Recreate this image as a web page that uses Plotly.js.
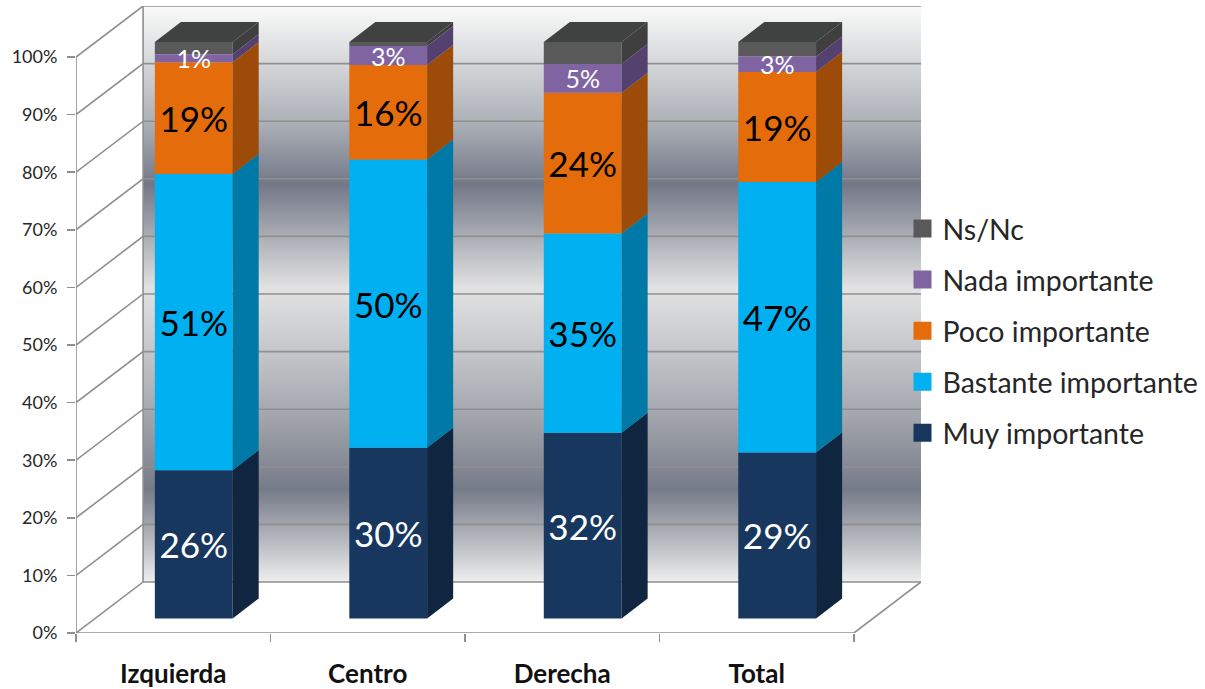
<!DOCTYPE html>
<html>
<head>
<meta charset="utf-8">
<script src="https://cdn.plot.ly/plotly-3.0.1.min.js"></script>
<style>html,body{margin:0;padding:0;background:#fff;overflow:hidden}#chart{width:1205px;height:689px}</style>
</head>
<body>
<div id="chart"></div>
<script>
const categories = ['Izquierda', 'Centro', 'Derecha', 'Total'];
const muyImportante = [25.7, 29.6, 32.2, 28.8];
const bastanteImportante = [51.4, 50.0, 34.6, 46.9];
const pocoImportante = [19.4, 16.4, 24.4, 19.1];
const nadaImportante = [1.4, 3.3, 5.0, 2.7];
const nsNc = [2.1, 0.7, 3.8, 2.5];
const yTicks = [0, 10, 20, 30, 40, 50, 60, 70, 80, 90, 100];

const seriesNames = ['Muy importante', 'Bastante importante', 'Poco importante', 'Nada importante', 'Ns/Nc'];
const seriesValues = [muyImportante, bastanteImportante, pocoImportante, nadaImportante, nsNc];
const frontColors = ['#17375e', '#00b0f0', '#e46c0a', '#8064a2', '#595959'];
const sideColors = ['#10253f', '#0079a6', '#9c4c08', '#54416f', '#3f3f3f'];
const labelColors = ['#ffffff', '#000000', '#000000', '#ffffff', '#ffffff'];
const labelSizes = [35, 35, 35, 25, 25];
const drawOrder = [0, 1, 2, 4, 3];
const topColor = '#404141';
const gridColor = '#8f8f8f';
const wallGradient = [
  [0.00, '#eeeeee'], [0.07, '#b8babf'], [0.16, '#767b89'], [0.28, '#a0a3aa'],
  [0.40, '#c4c6ca'], [0.51, '#e2e2e2'], [0.59, '#b0b3b9'], [0.69, '#737887'],
  [0.80, '#adb1b8'], [0.90, '#d4d6d8'], [1.00, '#fafafa']
];

const FONT = 'Lato, "Open Sans", sans-serif';

// Perspective offsets, in axis units
const wallDx = 0.345, wallDy = 8.86;
const barDx = 0.134, barDy = 3.47;
const barHalf = 0.2;
const xLeft = -0.5, xFront = 3.5, xRight = 3.845, yTop = 108.86;

const traces = [];

// back wall
traces.push({
  type: 'scatter', mode: 'none', xaxis: 'x', yaxis: 'y', showlegend: false, hoverinfo: 'skip',
  x: [xLeft + wallDx, xRight, xRight, xLeft + wallDx, xLeft + wallDx],
  y: [wallDy, wallDy, 100 + wallDy, 100 + wallDy, wallDy],
  fill: 'toself',
  fillgradient: {type: 'vertical', colorscale: wallGradient}
});

// grid lines across side wall and back wall
const gx = [], gy = [];
yTicks.forEach(v => {
  gx.push(xLeft, xLeft + wallDx, xRight, null);
  gy.push(v, v + wallDy, v + wallDy, null);
});
gx.push(xLeft + wallDx, xLeft + wallDx, null, xFront, xRight, null);
gy.push(wallDy, 100 + wallDy, null, 0, wallDy, null);
traces.push({
  type: 'scatter', mode: 'lines', xaxis: 'x', yaxis: 'y', showlegend: false, hoverinfo: 'skip',
  x: gx, y: gy, line: {color: gridColor, width: 1.6}, cliponaxis: false
});

// front axis lines
traces.push({
  type: 'scatter', mode: 'lines', xaxis: 'x', yaxis: 'y', showlegend: false, hoverinfo: 'skip',
  x: [xLeft, xLeft, null, xLeft, xFront],
  y: [100, 0, null, 0, 0],
  line: {color: gridColor, width: 1.6}, cliponaxis: false
});

// cumulative bases of the stack
const bases = [];
const cum = categories.map(() => 0);
seriesValues.forEach(vals => {
  bases.push(cum.slice());
  vals.forEach((v, i) => { cum[i] += v; });
});

// bars, side faces
drawOrder.forEach(s => {
  const vals = seriesValues[s];
  const sx = [], sy = [];
  vals.forEach((v, i) => {
    const r = i + barHalf, y0 = bases[s][i], y1 = y0 + v;
    sx.push(r, r + barDx, r + barDx, r, r, null);
    sy.push(y0, y0 + barDy, y1 + barDy, y1, y0, null);
  });
  traces.push({
    type: 'scatter', mode: 'none', xaxis: 'x2', yaxis: 'y2', showlegend: false, hoverinfo: 'skip',
    x: sx, y: sy, fill: 'toself', fillcolor: sideColors[s]
  });
  traces.push({
    type: 'bar', name: seriesNames[s], xaxis: 'x2', yaxis: 'y2', showlegend: false,
    x: categories.map((_, i) => i), y: vals, base: bases[s],
    marker: {color: frontColors[s], line: {width: 0}},
    text: s === 4 ? undefined : vals.map(v => Math.round(v) + '%'),
    textposition: s === 4 ? 'none' : 'inside',
    insidetextanchor: 'middle', textangle: 0, constraintext: 'none',
    insidetextfont: {family: FONT, size: labelSizes[s], color: labelColors[s]},
    cliponaxis: false
  });
});

// top faces
const tx = [], ty = [];
cum.forEach((c, i) => {
  const l = i - barHalf, r = i + barHalf;
  tx.push(l, r, r + barDx, l + barDx, l, null);
  ty.push(c, c, c + barDy, c + barDy, c, null);
});
traces.push({
  type: 'scatter', mode: 'none', xaxis: 'x2', yaxis: 'y2', showlegend: false, hoverinfo: 'skip',
  x: tx, y: ty, fill: 'toself', fillcolor: topColor
});

// legend entries, top of the stack first
[4, 3, 2, 1, 0].forEach(s => {
  traces.push({
    type: 'scatter', mode: 'markers', name: seriesNames[s], xaxis: 'x2', yaxis: 'y2',
    legendgroup: seriesNames[s], x: [null], y: [null], hoverinfo: 'skip',
    marker: {symbol: 'square', size: 16, color: frontColors[s], line: {color: frontColors[s], width: 2}}
  });
});

const xDomain = [0, 845.0 / 1129];

const layout = {
  width: 1205, height: 689,
  paper_bgcolor: '#ffffff', plot_bgcolor: 'rgba(0,0,0,0)',
  margin: {l: 76, r: 0, t: 6, b: 56.4, pad: 0},
  barmode: 'overlay', bargap: 0.6,
  font: {family: FONT, color: '#262626'},
  showlegend: true,
  legend: {
    x: 826.5 / 1129, xanchor: 'left', y: 0.685, yanchor: 'top',
    bgcolor: 'rgba(0,0,0,0)', borderwidth: 0,
    traceorder: 'grouped', tracegroupgap: 11,
    font: {family: FONT, size: 28.5, color: '#262626'}, itemwidth: 30
  },
  xaxis: {
    type: 'linear', domain: xDomain, range: [xLeft, xRight], showgrid: false, zeroline: false, showline: false,
    tickmode: 'array', tickvals: categories.map((_, i) => i), ticktext: categories,
    ticks: '', ticklabelstandoff: 23,
    tickfont: {family: FONT, size: 26, color: '#111111', weight: 'bold'},
    minor: {tickmode: 'array', tickvals: [-0.5, 0.5, 1.5, 2.5, 3.5], ticks: 'outside', ticklen: 8, tickwidth: 1.6, tickcolor: gridColor, showgrid: false}
  },
  yaxis: {
    range: [0, yTop], showgrid: false, zeroline: false, showline: false,
    tickmode: 'array', tickvals: yTicks, ticktext: yTicks.map(v => v + '%'),
    ticks: 'outside', ticklen: 8, tickwidth: 1.6, tickcolor: gridColor, ticklabelstandoff: 6,
    tickfont: {family: FONT, size: 18, color: '#262626'}
  },
  xaxis2: {
    type: 'linear', domain: xDomain, overlaying: 'x', range: [-0.5 - 0.1054, xRight - 0.1054], visible: false
  },
  yaxis2: {
    overlaying: 'y', range: [-2.535, 106.25], visible: false
  }
};

Plotly.newPlot('chart', traces, layout, {displayModeBar: false, staticPlot: true});
</script>
</body>
</html>
